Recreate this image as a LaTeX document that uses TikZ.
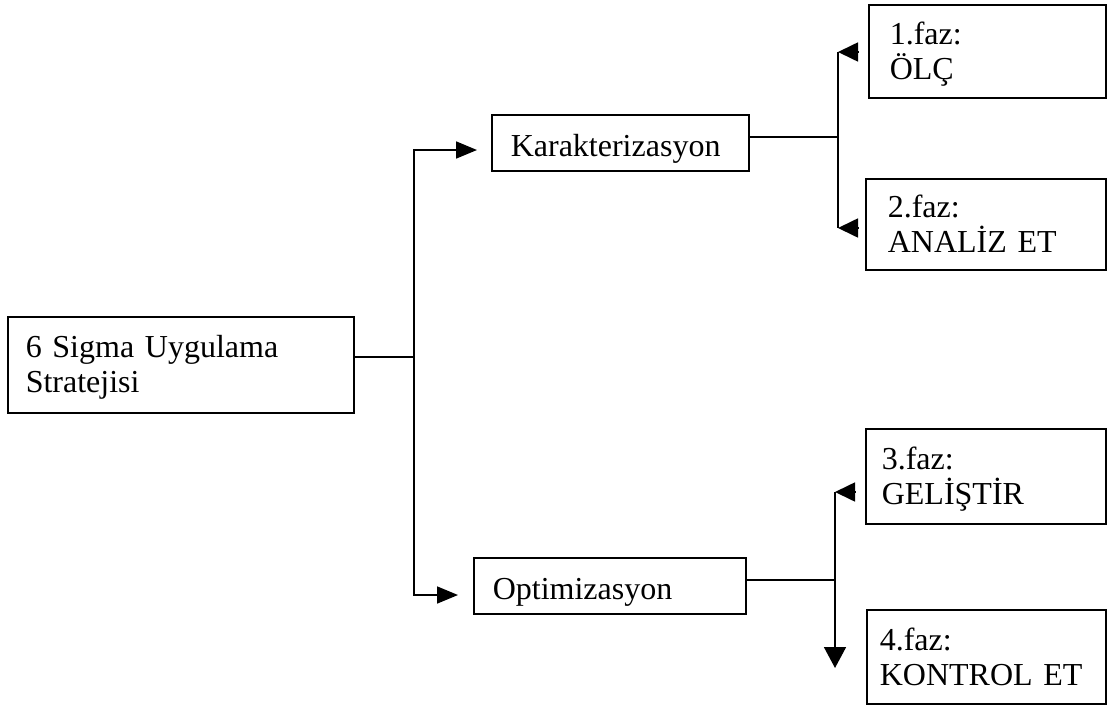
\documentclass[tikz,border=0pt]{standalone}
\usepackage{fontspec}
\setmainfont{Liberation Serif}
\usetikzlibrary{arrows.meta}
\begin{document}
\begin{tikzpicture}[x=1pt,y=-1pt,
  box/.style={draw, line width=1.6pt, anchor=north west, inner ysep=0pt,
              align=left, font=\fontsize{32}{35}\selectfont},
  single/.style={text height=28pt, text depth=1pt},
  faz/.style={text height=22pt, text depth=35pt},
  link/.style={line width=1.7pt},
  tip/.style={-{Triangle[length=21pt,width=17pt]}},
  back/.style={{Triangle[length=20pt,width=19pt]}-},
  downtip/.style={-{Triangle[length=21pt,width=22pt]}}]
\useasboundingbox (0,0) rectangle (1107,704);

% boxes
\node[box, minimum width=346pt, minimum height=96pt, inner xsep=18pt,
      text width=310pt, text height=22pt, text depth=36pt]
  (main) at (7,316) {6 Sigma Uygulama\\Stratejisi};
\node[box, single, minimum width=257pt, minimum height=56pt, inner xsep=19pt,
      text width=219pt] (kar) at (491,114) {Karakterizasyon};
\node[box, single, minimum width=272pt, minimum height=56pt, inner xsep=19pt,
      text width=234pt] (opt) at (473,557) {Optimizasyon};
\node[box, faz, minimum width=237pt, minimum height=93pt, inner xsep=21pt,
      text width=195pt] (f1) at (868,4) {1.faz:\\ÖLÇ};
\node[box, faz, minimum width=240pt, minimum height=91pt, inner xsep=22pt,
      text width=196pt] (f2) at (865,178) {2.faz:\\ANALİZ ET};
\node[box, faz, minimum width=240pt, minimum height=95pt, inner xsep=16pt,
      text width=208pt] (f3) at (865,428) {3.faz:\\GELİŞTİR};
\node[box, faz, minimum width=239pt, minimum height=94pt, inner xsep=13pt,
      text width=213pt] (f4) at (866,609) {4.faz:\\KONTROL ET};

% main split
\coordinate (split) at (414,357);
\coordinate (up) at (414,150);
\coordinate (down) at (414,595);
\draw[link] (main.east |- split) -- (split);
\draw[link, tip, shorten >=14pt] (split) -- (up) -- (kar.west |- up);
\draw[link, tip, shorten >=15pt] (split) -- (down) -- (opt.west |- down);

% characterisation phases
\coordinate (kj) at (838,137);
\coordinate (k1) at (838,52);
\coordinate (k2) at (838,228);
\draw[link] (kar.east |- kj) -- (kj);
\draw[link] (k1) -- (k2);
\draw[link, back, shorten >=9pt] (k1) -- (f1.west |- k1);
\draw[link, back, shorten >=6pt] (k2) -- (f2.west |- k2);

% optimisation phases
\coordinate (oj) at (835,580);
\coordinate (o1) at (835,492);
\coordinate (o2) at (835,668);
\draw[link] (opt.east |- oj) -- (oj);
\draw[link, downtip] (o1) -- (o2);
\draw[link, back, shorten >=9pt] (o1) -- (f3.west |- o1);
\end{tikzpicture}
\end{document}
